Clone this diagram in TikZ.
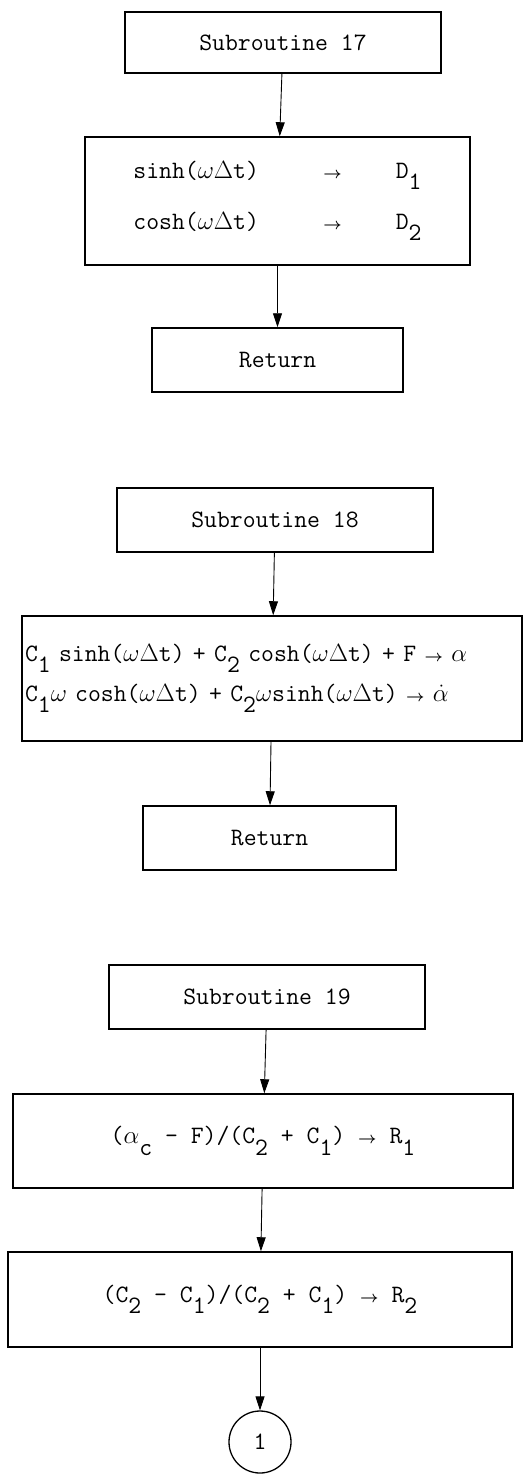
\RequirePackage{fix-cm}
\documentclass[tikz,border=0pt]{standalone}
\usepackage{amsmath}
\usepackage{tikz}
\usetikzlibrary{arrows.meta}

\newcommand{\lo}[1]{\raisebox{-0.45em}{#1}}
\newcommand{\goes}{{\fontsize{16}{16}\selectfont$\boldsymbol{\rightarrow}$}}

\begin{document}
\begin{tikzpicture}[x=1pt, y=1pt,
  box/.style={draw, line width=1.5pt, minimum height=64pt, inner sep=2pt, font=\fontsize{25}{30}\selectfont\ttfamily},
  arrow/.style={-{Triangle[length=14pt,width=9pt]}, line width=0.9pt}
]
\useasboundingbox (0,0) rectangle (526,-1484);
% subroutine 17
\node[box, minimum width=316pt, minimum height=61pt] at (283,-42.5) (sub17) {Subroutine 17};
\node[box, minimum width=385pt, minimum height=128pt, align=left, font=\fontsize{25}{51}\selectfont\ttfamily] at (277.5,-201) (calc17)
  {\makebox[7.6em][l]{sinh($\omega\Delta$t)}\makebox[2.9em][l]{\goes}D\lo{1}\\
   \makebox[7.6em][l]{cosh($\omega\Delta$t)}\makebox[2.9em][l]{\goes}D\lo{2}};
\node[box, minimum width=251pt] at (277.5,-360) (ret17) {Return};
% subroutine 18
\node[box, minimum width=316pt] at (275,-520) (sub18) {Subroutine 18};
\node[box, minimum width=500pt, minimum height=125pt, text width=494pt, align=left, font=\fontsize{25}{40}\selectfont\ttfamily] at (272,-678.5) (calc18)
  {C\lo{1} sinh($\omega\Delta$t) + C\lo{2} cosh($\omega\Delta$t) + F \goes{} $\alpha$\\
   C\lo{1}$\omega$ cosh($\omega\Delta$t) + C\lo{2}$\omega$sinh($\omega\Delta$t) \goes{} $\dot{\alpha}$};
\node[box, minimum width=253pt] at (269.5,-838) (ret18) {Return};
% subroutine 19
\node[box, minimum width=316pt] at (267,-997) (sub19) {Subroutine 19};
\node[box, minimum width=500pt, minimum height=94pt] at (263,-1141) (rone)
  {($\alpha$\lo{c} - F)/(C\lo{2} + C\lo{1}) \goes{} R\lo{1}};
\node[box, minimum width=504pt, minimum height=95pt] at (260,-1299.5) (rtwo)
  {(C\lo{2} - C\lo{1})/(C\lo{2} + C\lo{1}) \goes{} R\lo{2}};
\node[draw, circle, line width=1.3pt, minimum size=62pt, font=\fontsize{25}{30}\selectfont\ttfamily] at (260,-1442) (conn) {1};
\draw[arrow] (sub17) -- (calc17);
\draw[arrow] (calc17) -- (ret17);
\draw[arrow] (sub18) -- (calc18);
\draw[arrow] (calc18) -- (ret18);
\draw[arrow] (sub19) -- (rone);
\draw[arrow] (rone) -- (rtwo);
\draw[arrow] (rtwo) -- (conn);
\end{tikzpicture}
\end{document}
